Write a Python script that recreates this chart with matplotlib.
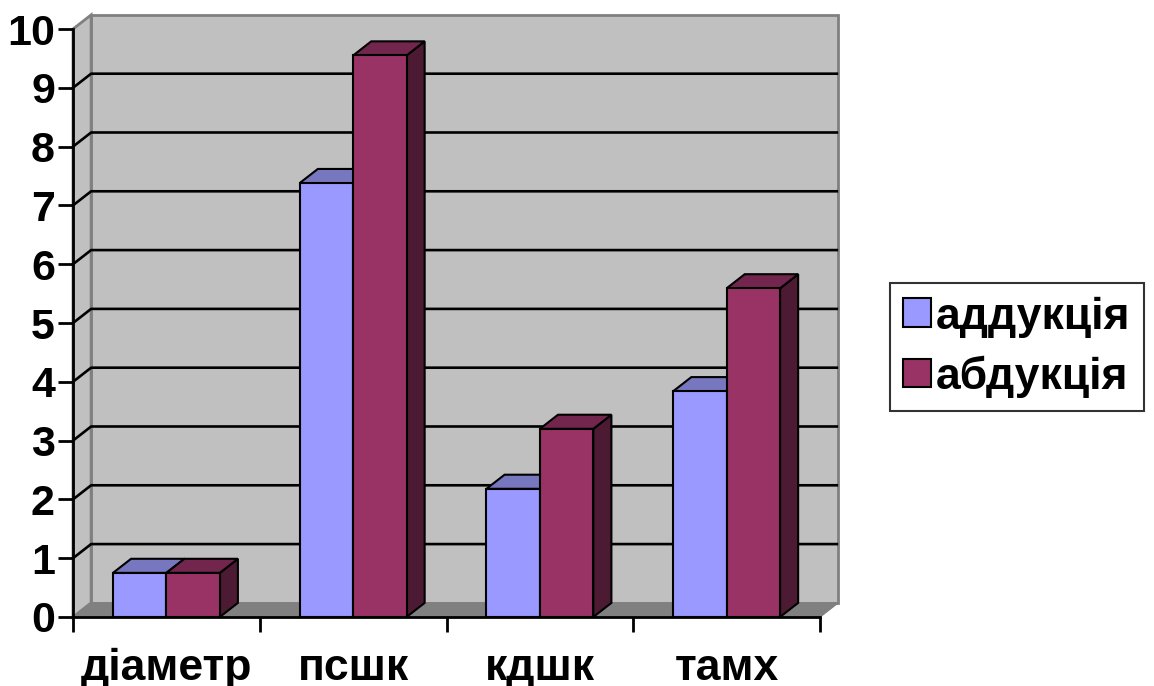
import matplotlib.pyplot as plt
from matplotlib.patches import Polygon, Patch

plt.rcParams['font.family'] = ['Liberation Sans', 'DejaVu Sans']
plt.rcParams['font.weight'] = 'bold'

categories = ['діаметр', 'псшк', 'кдшк', 'тамх']
series_names = ['аддукція', 'абдукція']
adduction = [0.75, 7.38, 2.18, 3.84]
abduction = [0.75, 9.55, 3.20, 5.59]

front_colors = ['#9999ff', '#993366']
top_colors = ['#7777bf', '#73264d']
side_colors = ['#5c5c99', '#4d1a33']

wall = '#c0c0c0'
wall_edge = '#808080'
floor = '#808080'

fig = plt.figure(figsize=(11.54, 6.86), dpi=100)
ax = fig.add_axes([73 / 1154, 1 - 617 / 686, 747 / 1154, 588 / 686])
ax.set_xlim(-0.5, 3.5)
ax.set_ylim(0, 10)

# depth of the 3d box in data units (right and up)
dx, dy = 0.097, 0.24
x0, x1 = -0.5, 3.5
ymax = 10

def poly(pts, fc, ec='black', lw=1.5, z=1):
    ax.add_patch(Polygon(pts, closed=True, facecolor=fc, edgecolor=ec,
                         linewidth=lw, zorder=z, clip_on=False,
                         joinstyle='miter'))

# back wall, left wall and floor
poly([(x0 + dx, dy), (x1 + dx, dy), (x1 + dx, ymax + dy), (x0 + dx, ymax + dy)],
     wall, wall_edge, 2, 0.5)
poly([(x0, 0), (x0 + dx, dy), (x0 + dx, ymax + dy), (x0, ymax)],
     wall, wall_edge, 2, 0.6)
poly([(x0, 0), (x1, 0), (x1 + dx, dy), (x0 + dx, dy)], floor, floor, 1, 0.7)

# gridlines on the walls
for k in range(1, 10):
    ax.plot([x0, x0 + dx, x1 + dx], [k, k + dy, k + dy], color='black',
            lw=1.9, zorder=0.8, clip_on=False, solid_capstyle='butt')

# 3d columns
bw = 0.286
for i in range(len(categories)):
    for j, vals in enumerate([adduction, abduction]):
        left = i - bw + j * bw
        right = left + bw
        v = vals[i]
        z = 2 + i * 0.1 + j * 0.01
        poly([(right, 0), (right + dx, dy), (right + dx, v + dy), (right, v)],
             side_colors[j], z=z)
        poly([(left, v), (right, v), (right + dx, v + dy), (left + dx, v + dy)],
             top_colors[j], z=z)
        poly([(left, 0), (right, 0), (right, v), (left, v)],
             front_colors[j], z=z)

for s in ['top', 'right']:
    ax.spines[s].set_visible(False)
for s in ['left', 'bottom']:
    ax.spines[s].set_linewidth(2)
    ax.spines[s].set_zorder(5)

ax.set_yticks(range(0, 11))
ax.set_xticks([-0.5, 0.5, 1.5, 2.5, 3.5])
ax.set_xticklabels([])
ax.set_xticks(range(len(categories)), minor=True)
ax.set_xticklabels(categories, minor=True)
ax.tick_params(axis='y', length=11, width=2, labelsize=31, pad=2)
ax.tick_params(axis='x', which='major', length=11, width=2)
ax.tick_params(axis='x', which='minor', length=0, labelsize=32, pad=22)

handles = [Patch(facecolor=c, edgecolor='black', linewidth=1.5) for c in front_colors]
leg = fig.legend(handles, series_names, loc='upper left',
                 bbox_to_anchor=(890 / 1154, 1 - 283 / 686),
                 bbox_transform=fig.transFigure, fontsize=32,
                 frameon=True, fancybox=False, edgecolor='black',
                 handlelength=0.62, handleheight=0.62, handletextpad=0.12,
                 borderpad=0.3, labelspacing=0.4, borderaxespad=0)
leg.get_frame().set_linewidth(1.5)

fig.savefig('out.png', dpi=100)
